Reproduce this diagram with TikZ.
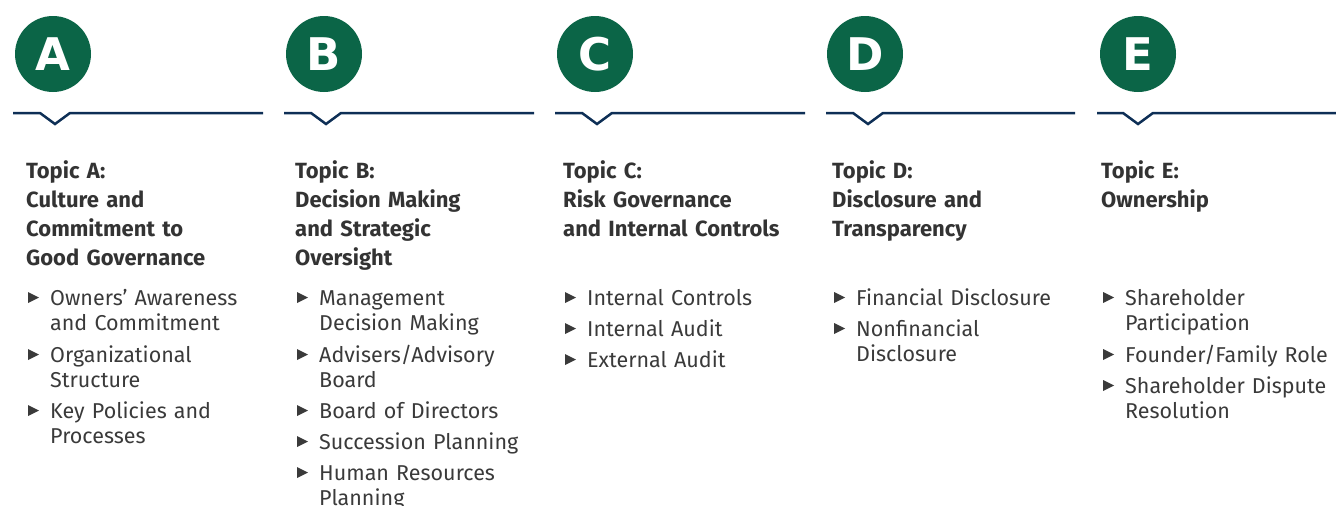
\documentclass[tikz,border=0pt]{standalone}
\usepackage{fontspec}
\setmainfont{Fira Sans}
\newfontfamily\letterfont{DejaVu Sans}
\usetikzlibrary{positioning,calc}
\definecolor{topicgreen}{HTML}{0B6547}
\definecolor{rulenavy}{HTML}{0E2F56}
\definecolor{headgray}{HTML}{333333}
\definecolor{bodygray}{HTML}{3A3A3A}
\tikzset{
  topic/.style={circle,fill=topicgreen,minimum size=76pt,inner sep=0pt,text=white,
    font=\letterfont\bfseries\fontsize{45}{45}\selectfont},
  rule/.style={rulenavy,line width=2.5pt,line join=miter},
  head/.style={anchor=base west,inner sep=0pt,text width=250pt,align=left,text=headgray,
    font=\bfseries\fontsize{22}{29}\selectfont},
  item/.style={anchor=base west,inner sep=0pt,text width=240pt,align=left,text=bodygray,
    font=\fontsize{21.5}{25}\selectfont},
  bul/.pic={\fill[bodygray] (-22,-2) -- (-22,-13) -- (-11,-7.5) -- cycle;}
}

\begin{document}
\begin{tikzpicture}[x=1pt,y=-1pt]
\useasboundingbox (0,0) rectangle (1336,506);
\node[topic] (cA) at (53,54) {A};
\node[topic] (cB) at (324,54) {B};
\node[topic] (cC) at (595,54) {C};
\node[topic] (cD) at (865,54) {D};
\node[topic] (cE) at (1138,54) {E};
\coordinate (lA) at (13,113);   \coordinate (rA) at (263,113);
\coordinate (lB) at (284,113);  \coordinate (rB) at (534,113);
\coordinate (lC) at (555,113);  \coordinate (rC) at (805,113);
\coordinate (lD) at (826,113);  \coordinate (rD) at (1075,113);
\coordinate (lE) at (1097,113); \coordinate (rE) at (1340,113);
\draw[rule] (lA) -- ++(27,0) -- ++(15,11) -- ++(15,-11) -- (rA);
\draw[rule] (lB) -- ++(27,0) -- ++(15,11) -- ++(15,-11) -- (rB);
\draw[rule] (lC) -- ++(27,0) -- ++(15,11) -- ++(15,-11) -- (rC);
\draw[rule] (lD) -- ++(27,0) -- ++(15,11) -- ++(15,-11) -- (rD);
\draw[rule] (lE) -- ++(26,0) -- ++(15,11) -- ++(15,-11) -- (rE);
\node[head] (hA) at (26,178) {Topic A:\\Culture and\\Commitment to\\Good Governance};
\node[head] (hB) at (295,178) {Topic B:\\Decision Making\\and Strategic\\Oversight};
\node[head] (hC) at (563,178) {Topic C:\\Risk Governance\\and Internal Controls};
\node[head] (hD) at (832,178) {Topic D:\\Disclosure and\\Transparency};
\node[head] (hE) at (1101,178) {Topic E:\\Ownership};
\node[item] (a1) at (50,305) {Owners’ Awareness\\and Commitment};
\node[item] (a2) at (50,362) {Organizational\\Structure};
\node[item] (a3) at (50,418) {Key Policies and\\Processes};
\node[item] (b1) at (319,305) {Management\\Decision Making};
\node[item] (b2) at (319,362) {Advisers/Advisory\\Board};
\node[item] (b3) at (319,418) {Board of Directors};
\node[item] (b4) at (319,449) {Succession Planning};
\node[item] (b5) at (319,480) {Human Resources\\Planning};
\node[item] (c1) at (587,305) {Internal Controls};
\node[item] (c2) at (587,336) {Internal Audit};
\node[item] (c3) at (587,367) {External Audit};
\node[item] (d1) at (856,305) {Financial Disclosure};
\node[item] (d2) at (856,336) {Nonfinancial\\Disclosure};
\node[item] (e1) at (1125,305) {Shareholder\\Participation};
\node[item] (e2) at (1125,362) {Founder/Family Role};
\node[item] (e3) at (1125,393) {Shareholder Dispute\\Resolution};
\foreach \i in {a1,a2,a3,b1,b2,b3,b4,b5,c1,c2,c3,d1,d2,e1,e2,e3}
  \pic at (\i.base west) {bul};
\end{tikzpicture}
\end{document}
